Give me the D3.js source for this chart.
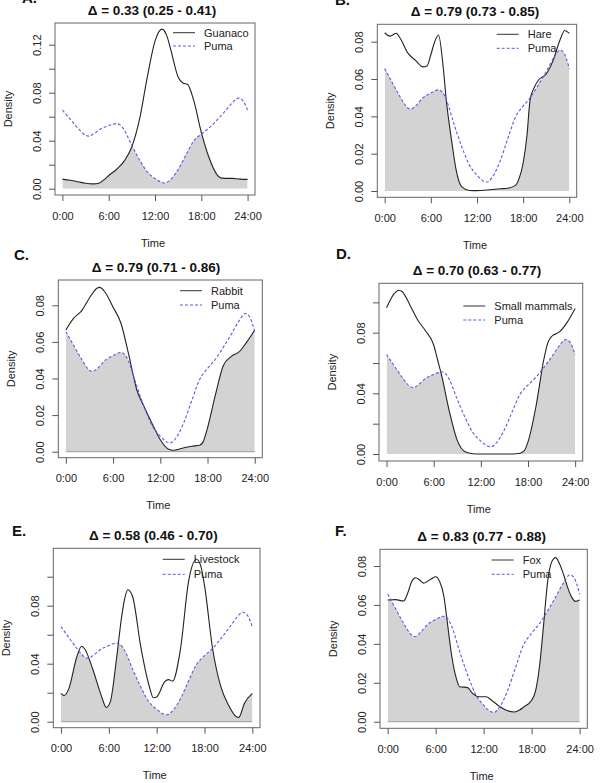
<!DOCTYPE html>
<html>
<head>
<meta charset="utf-8">
<script src="https://cdn.jsdelivr.net/npm/d3@7"></script>
<style>
  body { margin: 0; background: #fff; }
  text { font-family: "Liberation Sans", Arial, sans-serif; }
</style>
</head>
<body>
<svg id="chart" width="601" height="783"></svg>
<script>
'use strict'

// activity density curves, [hour, density]
var puma = [[0,0.0656],[1,0.058],[2,0.0505],[3,0.0445],[3.4,0.0438],[4,0.0455],[5,0.05],[6,0.0525],[7,0.0542],[7.5,0.053],[8,0.049],[9,0.036],[10,0.024],[11,0.014],[12,0.0085],[13,0.005],[13.3,0.0048],[14,0.0075],[15,0.016],[16,0.028],[17,0.0395],[18,0.0455],[19,0.0505],[20,0.057],[21,0.064],[22,0.0715],[22.8,0.0755],[23.3,0.074],[24,0.0656]]
var guanaco = [[0,0.008],[1,0.007],[2,0.0058],[3,0.0045],[4,0.004],[4.7,0.0045],[5.5,0.008],[6,0.011],[7,0.016],[8,0.023],[9,0.035],[10,0.058],[11,0.093],[12,0.123],[12.9,0.133],[13.5,0.128],[14,0.117],[15,0.093],[15.6,0.088],[16.2,0.087],[17,0.074],[18,0.047],[19,0.026],[20,0.012],[20.5,0.009],[21,0.0086],[22,0.0086],[23,0.008],[24,0.0078]]
var hare = [[0,0.0848],[0.7,0.083],[1.5,0.0845],[2,0.082],[3,0.074],[4,0.07],[5,0.0665],[5.5,0.067],[6,0.073],[6.5,0.08],[7,0.0836],[7.6,0.0666],[8,0.049],[8.7,0.027],[9.3,0.011],[10,0.0023],[11,0.0003],[12,0.0002],[13,0.0004],[14,0.0008],[15,0.0012],[16,0.0015],[17,0.003],[17.5,0.007],[18,0.015],[18.5,0.03],[18.9,0.0488],[19.5,0.056],[20,0.0595],[21,0.0627],[21.9,0.07],[22.8,0.081],[23.4,0.086],[24,0.0845]]
var rabbit = [[0,0.0665],[1,0.073],[2,0.077],[3,0.084],[4,0.0895],[4.3,0.0898],[5,0.087],[6,0.079],[7,0.0702],[8,0.0528],[9,0.034],[10,0.024],[11,0.015],[12,0.0065],[13,0.0015],[13.7,0.0008],[14,0.001],[15,0.0022],[16,0.003],[17,0.0035],[17.5,0.006],[18,0.013],[19,0.031],[20,0.047],[21,0.052],[22,0.0545],[23,0.06],[24,0.0665]]
var smallMammals = [[0,0.0965],[1,0.106],[1.6,0.108],[2,0.107],[3,0.098],[4,0.088],[5,0.081],[6,0.0719],[6.5,0.062],[7,0.052],[8,0.028],[9,0.009],[10,0.0015],[11,0.0002],[12,0],[13,0],[14,0],[15,0],[16,0],[17,0.0005],[17.5,0.002],[18,0.008],[19,0.031],[20,0.062],[20.5,0.073],[21,0.0775],[22,0.0805],[23,0.087],[24,0.096]]
var livestock = [[0,0.0195],[0.4,0.018],[1,0.023],[2,0.045],[2.6,0.052],[3,0.05],[4,0.036],[5,0.019],[5.7,0.0098],[6.2,0.014],[7,0.045],[7.6,0.072],[8,0.085],[8.4,0.091],[9,0.086],[10,0.052],[11,0.026],[11.6,0.0165],[12,0.017],[13,0.0275],[13.5,0.029],[14,0.028],[15,0.0506],[16,0.0966],[17,0.112],[17.5,0.108],[18,0.094],[19,0.051],[20,0.025],[21,0.0115],[22,0.0034],[22.3,0.003],[23,0.0126],[24,0.0195]]
var fox = [[0,0.0625],[1,0.0627],[2,0.062],[2.5,0.066],[3,0.072],[3.5,0.074],[4,0.0728],[4.5,0.0712],[5,0.0722],[5.5,0.0735],[6,0.0745],[6.5,0.072],[7,0.065],[7.5,0.0497],[8,0.034],[8.6,0.022],[9,0.018],[10,0.0175],[10.6,0.0146],[11.5,0.0128],[12.3,0.0128],[13,0.011],[14,0.0078],[15,0.0056],[15.8,0.005],[16.5,0.006],[17,0.0075],[18,0.011],[18.5,0.016],[19,0.029],[19.5,0.05],[20,0.072],[20.5,0.082],[21,0.0843],[21.5,0.081],[22,0.0755],[22.5,0.069],[23,0.064],[23.5,0.0618],[24,0.0625]]

var xTicks = [0, 6, 12, 18, 24]
var xTickLabels = ['0:00', '6:00', '12:00', '18:00', '24:00']
var yTicks12 = [0, 0.02, 0.04, 0.06, 0.08, 0.10, 0.12]
var yLabels12 = [0, 0.04, 0.08, 0.12]
var yTicks10 = [0, 0.02, 0.04, 0.06, 0.08, 0.10]
var yLabels10 = [0, 0.04, 0.08]
var yTicks08 = [0, 0.02, 0.04, 0.06, 0.08]

var panels = [
  { id: 'A', title: 'Δ = 0.33 (0.25 - 0.41)', species: 'Guanaco', data: guanaco, yTicks: yTicks12, yLabels: yLabels12, zeroLine: false },
  { id: 'B', title: 'Δ = 0.79 (0.73 - 0.85)', species: 'Hare', data: hare, yTicks: yTicks08, yLabels: yTicks08, zeroLine: false },
  { id: 'C', title: 'Δ = 0.79 (0.71 - 0.86)', species: 'Rabbit', data: rabbit, yTicks: yTicks08, yLabels: yTicks08, zeroLine: true },
  { id: 'D', title: 'Δ = 0.70 (0.63 - 0.77)', species: 'Small mammals', data: smallMammals, yTicks: yTicks10, yLabels: yLabels10, zeroLine: false },
  { id: 'E', title: 'Δ = 0.58 (0.46 - 0.70)', species: 'Livestock', data: livestock, yTicks: yTicks10, yLabels: yLabels10, zeroLine: true },
  { id: 'F', title: 'Δ = 0.83 (0.77 - 0.88)', species: 'Fox', data: fox, yTicks: yTicks08, yLabels: yTicks08, zeroLine: true }
]

// where each panel sits on the page
var layout = {
  A: { left: 55, right: 255, top: 23, bottom: 195, y0: 188.7, yRef: 44.7, refVal: 0.12, titleX: 152, letterX: 22, letterY: 3, legX: 173, legY: 32.7, legDy: 13.3 },
  B: { left: 377.3, right: 576.7, top: 24.3, bottom: 197.3, y0: 191, yRef: 41.7, refVal: 0.08, titleX: 475, letterX: 335, letterY: 5, legX: 496.7, legY: 34.3, legDy: 14 },
  C: { left: 58.3, right: 262.3, top: 280, bottom: 457.7, y0: 451.7, yRef: 305.3, refVal: 0.08, titleX: 156, letterX: 14, letterY: 260, legX: 180, legY: 290.7, legDy: 14.3 },
  D: { left: 379, right: 582.7, top: 283.3, bottom: 461, y0: 454, yRef: 332.7, refVal: 0.08, titleX: 477, letterX: 336, letterY: 259, legX: 463.3, legY: 306, legDy: 14 },
  E: { left: 53.3, right: 260, top: 548.3, bottom: 727.7, y0: 721.7, yRef: 605.7, refVal: 0.08, titleX: 153.3, letterX: 12, letterY: 535.5, legX: 162.7, legY: 559.3, legDy: 15 },
  F: { left: 380, right: 587.3, top: 549.3, bottom: 728.3, y0: 721.7, yRef: 566, refVal: 0.08, titleX: 481.7, letterX: 335, letterY: 535.5, legX: 491.7, legY: 560, legDy: 14.3 }
}

var svg = d3.select('#chart')
var defs = svg.append('defs')
var pumaColor = '#5a5ae6'
var fmt = d3.format('.2f')

panels.forEach(function(p) {
  var L = layout[p.id]
  var x = d3.scaleLinear().domain([-0.96, 24.96]).range([L.left, L.right])
  var y = d3.scaleLinear().domain([0, L.refVal]).range([L.y0, L.yRef])

  var line = d3.line()
    .x(function(d) { return x(d[0]) })
    .y(function(d) { return y(d[1]) })
    .curve(d3.curveMonotoneX)
  var area = d3.area()
    .x(function(d) { return x(d[0]) })
    .y0(y(0))
    .y1(function(d) { return y(d[1]) })
    .curve(d3.curveMonotoneX)

  var g = svg.append('g')

  // overlap = area under species clipped to area under puma
  defs.append('clipPath')
    .attr('id', 'clip-' + p.id)
    .append('path')
    .attr('d', area(puma))

  g.append('path')
    .attr('d', area(p.data))
    .attr('clip-path', 'url(#clip-' + p.id + ')')
    .attr('fill', '#d3d3d3')

  if (p.zeroLine) {
    g.append('line')
      .attr('x1', x(0)).attr('x2', x(24))
      .attr('y1', y(0)).attr('y2', y(0))
      .attr('stroke', '#9a9a9a')
      .attr('stroke-width', 1)
  }

  g.append('path')
    .attr('d', line(p.data))
    .attr('fill', 'none')
    .attr('stroke', '#222')
    .attr('stroke-width', 1.1)

  g.append('path')
    .attr('d', line(puma))
    .attr('fill', 'none')
    .attr('stroke', pumaColor)
    .attr('stroke-width', 1.1)
    .attr('stroke-dasharray', '3,2')

  g.append('rect')
    .attr('x', L.left).attr('y', L.top)
    .attr('width', L.right - L.left)
    .attr('height', L.bottom - L.top)
    .attr('fill', 'none')
    .attr('stroke', '#666')
    .attr('stroke-width', 1)

  var xAxis = g.append('g')
    .attr('transform', 'translate(0,' + L.bottom + ')')
    .call(d3.axisBottom(x)
      .tickValues(xTicks)
      .tickFormat(function(d, i) { return xTickLabels[i] })
      .tickSize(6)
      .tickPadding(11))
  xAxis.select('.domain').remove()
  xAxis.selectAll('line').attr('stroke', '#555')
  xAxis.selectAll('text')
    .attr('font-family', '"Liberation Sans", Arial, sans-serif')
    .attr('font-size', '11px')
    .attr('fill', '#222')

  var yAxis = g.append('g')
    .attr('transform', 'translate(' + L.left + ',0)')
    .call(d3.axisLeft(y)
      .tickValues(p.yTicks)
      .tickFormat(function(d) {
        return p.yLabels.some(function(v) { return Math.abs(v - d) < 1e-9 }) ? fmt(d) : ''
      })
      .tickSize(6))
  yAxis.select('.domain').remove()
  yAxis.selectAll('line').attr('stroke', '#555')
  yAxis.selectAll('text')
    .attr('x', null).attr('dy', null)
    .attr('transform', 'translate(-14,0) rotate(-90)')
    .attr('text-anchor', 'middle')
    .attr('font-family', '"Liberation Sans", Arial, sans-serif')
    .attr('font-size', '11px')
    .attr('fill', '#222')

  g.append('text')
    .attr('x', (L.left + L.right) / 2 - 2)
    .attr('y', L.bottom + 51.5)
    .attr('text-anchor', 'middle')
    .attr('font-size', '11px')
    .attr('fill', '#222')
    .text('Time')

  g.append('text')
    .attr('transform', 'translate(' + (L.left - 43) + ',' + (L.top + L.bottom) / 2 + ') rotate(-90)')
    .attr('text-anchor', 'middle')
    .attr('font-size', '11px')
    .attr('fill', '#222')
    .text('Density')

  g.append('text')
    .attr('x', L.titleX)
    .attr('y', L.top - 8)
    .attr('text-anchor', 'middle')
    .attr('font-size', '13.5px')
    .attr('font-weight', 'bold')
    .attr('fill', '#111')
    .text(p.title)

  g.append('text')
    .attr('x', L.letterX)
    .attr('y', L.letterY)
    .attr('font-size', '15px')
    .attr('font-weight', 'bold')
    .attr('fill', '#111')
    .text(p.id + '.')

  // legend
  var legend = [
    { label: p.species, color: '#333', dash: null },
    { label: 'Puma', color: pumaColor, dash: '3,2' }
  ]
  legend.forEach(function(item, i) {
    var ly = L.legY + i * L.legDy
    g.append('line')
      .attr('x1', L.legX).attr('x2', L.legX + 22)
      .attr('y1', ly).attr('y2', ly)
      .attr('stroke', item.color)
      .attr('stroke-width', 1)
      .attr('stroke-dasharray', item.dash)
    g.append('text')
      .attr('x', L.legX + 31)
      .attr('y', ly + 4)
      .attr('font-size', '11px')
      .attr('fill', '#222')
      .text(item.label)
  })
})
</script>
</body>
</html>
